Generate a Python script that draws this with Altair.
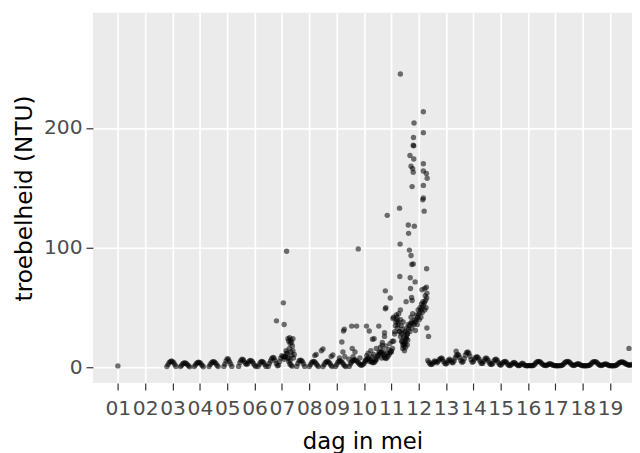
import altair as alt
import pandas as pd

N = None  # no reading (sensor dry / gap)

# ---- hourly turbidity values (NTU), May 2 18:00 onwards ----
base_start_hour = 42  # hours after May 1 00:00
may02 = [N, 0.8, 2.5, 4.0, 5.0, 5.5]
may03 = [5.0, 4.0, 2.5, 1.0, N, N, N, 0.8, 2.0, 3.2, 3.8, 3.8, 3.5, 2.5, 1.5, 0.6, N, N, N, 0.8, 2.2, 3.5, 4.2, 4.4]
may04 = [4.0, 3.0, 1.8, 0.7, N, N, N, N, 0.8, 2.5, 3.8, 4.6, 4.8, 4.5, 3.5, 2.0, 0.8, N, N, N, N, 1.0, 3.0, 5.5]
may05 = [7.5, 7.0, 5.0, 3.0, 1.0, N, N, N, N, N, 1.0, 4.0, 6.0, 7.0, 6.5, 5.0, 3.5, 2.5, 3.5, 5.0, 6.0, 5.8, 5.0, 3.5]
may06 = [2.0, 0.8, N, 0.8, 2.5, 4.2, 5.2, 5.0, 4.0, 2.5, 1.0, N, 1.0, 3.5, 5.5, 7.5, 8.5, 8.0, 6.0, 3.5, 1.5, 2.0, 5.0, 8.0]
may07 = [10.0, 9.0, 7.0, 9.0, 12.0, 8.0, 5.0, 3.0, 2.0, 1.2, N, N, N, 1.0, 3.5, 5.5, 6.2, 6.0, 5.0, 3.0, 1.0, N, N, N]
may08 = [0.8, 2.5, 4.0, 5.0, 5.2, 4.5, 3.2, 2.0, 0.8, N, N, N, 0.8, 2.5, 4.0, 5.0, 5.3, 4.6, 3.4, 2.0, 0.8, N, N, 0.8]
may09 = [2.5, 4.2, 5.3, 5.8, 5.2, 4.0, 2.8, 1.5, 0.8, N, N, 1.0, 3.0, 4.5, 5.5, 6.2, 6.5, 6.0, 5.0, 4.0, 3.0, 2.2, 2.0, 2.5]
may10 = [3.5, 5.0, 6.5, 7.5, 8.0, 7.0, 5.5, 4.5, 4.0, 4.5, 5.5, 7.0, 9.0, 11.0, 12.5, 13.0, 12.0, 10.0, 8.5, 7.5, 8.0, 9.5, 11.0, 12.5]
may11 = [14.0, 16.0, 22, 30, 38, 42, 36, 30, 26, 22, 19, 18, 20, 24, 28, 32, 35, 37, 38, 37, 36, 38, 40, 42]
may12 = [44, 46, 48, 50, 52, 54, 56, 58, 6.0, 4.5, 3.0, 2.5, 3.0, 4.5, 5.5, 5.0, 4.0, 5.0, 6.5, 7.5, 8.0, 7.0, 5.0, 3.5]
may13 = [3.0, 4.0, 6.0, 7.0, 6.0, 4.5, 4.0, 5.5, 8.0, 10.0, 11.0, 10.5, 8.5, 6.0, 4.5, 5.0, 7.5, 10.5, 12.5, 13.0, 12.0, 9.5, 6.5, 4.5]
may14 = [5.0, 7.0, 8.5, 9.0, 8.5, 7.0, 5.0, 3.5, 3.5, 5.0, 7.0, 8.0, 7.5, 6.0, 4.0, 2.8, 2.5, 3.5, 5.5, 6.8, 7.0, 6.0, 4.0, 2.5]
may15 = [2.0, 3.0, 4.2, 5.0, 5.2, 4.5, 3.0, 2.0, 1.6, 2.2, 3.2, 4.0, 4.2, 3.5, 2.5, 1.8, 1.6, 2.0, 3.0, 3.6, 3.0, 2.0, 1.6, 1.5]
may16 = [1.6, 1.8, 1.8, 1.6, 1.6, 2.0, 3.0, 4.0, 4.8, 5.2, 5.0, 4.5, 3.5, 2.5, 2.0, 1.8, 1.8, 2.2, 2.8, 3.2, 3.0, 2.4, 2.0, 1.7]
may17 = [1.6, 1.5, 1.5, 1.6, 1.6, 1.7, 2.0, 2.8, 3.8, 4.6, 5.0, 5.1, 4.6, 3.8, 2.8, 2.0, 1.8, 2.0, 2.5, 3.0, 3.2, 2.8, 2.2, 1.8]
may18 = [1.6, 1.5, 1.5, 1.5, 1.6, 1.7, 2.0, 2.8, 3.8, 4.6, 5.0, 5.0, 4.5, 3.6, 2.6, 2.0, 1.8, 2.0, 2.4, 2.9, 3.1, 2.8, 2.2, 1.8]
may19 = [1.6, 1.5, 1.5, 1.5, 1.6, 1.8, 2.4, 3.2, 4.0, 4.5, 4.7, 4.6, 4.2, 3.6, 3.0, 2.6, 2.2, 2.0, 2.2, 2.6]

# ---- scattered extra readings (day of May, NTU) ----
extra_day = [1.00,
             6.80, 7.05, 7.08, 7.17, 7.10, 7.15, 7.20, 7.22, 7.25, 7.25, 7.27, 7.28, 7.30, 7.30, 7.32, 7.33,
             7.35, 7.36, 7.38, 7.40, 7.40, 7.42, 7.45,
             8.20, 8.25, 8.44, 8.50, 8.80, 8.86, 9.10, 9.19, 9.23, 9.25, 9.28, 9.30, 9.45, 9.55, 9.57, 9.60,
             9.67, 9.73, 9.79, 9.85,
             10.05, 10.09, 10.10, 10.15, 10.19, 10.20, 10.25, 10.30, 10.31, 10.35, 10.37, 10.40, 10.45, 10.50,
             10.54, 10.55, 10.60, 10.65, 10.67, 10.67, 10.70, 10.75, 10.75, 10.75, 10.78, 10.78, 10.80, 10.80,
             10.85, 10.85, 10.90, 10.95, 10.96, 11.00, 11.03, 11.06, 11.08,
             11.12, 11.15, 11.18, 11.20, 11.22, 11.25, 11.27, 11.30, 11.30, 11.31, 11.32, 11.33, 11.33, 11.34,
             11.36, 11.38, 11.40, 11.43, 11.46, 11.50, 11.53, 11.56, 11.59, 11.62,
             11.40, 11.42, 11.45, 11.47, 11.48, 11.50, 11.52, 11.54, 11.55, 11.58, 11.60, 11.62, 11.63, 11.66,
             11.68, 11.68, 11.69, 11.70, 11.72, 11.72, 11.72, 11.74, 11.75, 11.75, 11.76, 11.76, 11.78, 11.78,
             11.80, 11.80, 11.80, 11.81, 11.82, 11.82, 11.83, 11.84, 11.85, 11.87, 11.88, 11.92, 11.95, 11.98,
             12.02, 12.05, 12.08, 12.10, 12.12, 12.13, 12.15, 12.16, 12.17, 12.17, 12.17, 12.17, 12.17, 12.17,
             12.20, 12.22, 12.22, 12.24, 12.27, 12.28, 12.28, 12.29, 12.30, 12.30, 12.31, 12.36,
             13.37, 19.69]
extra_val = [1.4,
             39, 54, 36, 97, 9, 14, 12, 24, 22, 8, 16, 25, 20, 6, 23, 13,
             21, 10, 18, 24, 14, 8, 11,
             10, 11, 14, 15.5, 9.3, 10.5, 8, 21.4, 13, 30.5, 32, 9, 7, 34.6, 16, 9,
             13, 34.6, 99, 8,
             6, 34.6, 10, 12, 30.5, 5, 14, 9, 23.6, 11, 24, 7, 16, 10,
             34.6, 13, 17, 8, 21, 18.7, 14, 29, 26, 11, 64, 49, 50, 18,
             127, 12, 15, 20, 58, 13, 22, 41, 42,
             28, 35, 44, 40, 33, 38, 45, 30, 133, 76, 103, 245, 48, 40,
             35, 28, 32, 38, 20, 30, 24, 33, 28, 36,
             22, 16, 25, 29, 14, 21, 17, 55, 26, 19, 23, 119, 112, 98,
             30, 177, 75, 66, 93.5, 168, 42, 58.5, 86, 33, 151, 56, 166, 45,
             86.5, 163, 185.5, 192, 174, 185, 204, 118, 40, 71.5, 31, 44, 36, 48,
             40, 50, 42, 53, 65, 46, 140, 55, 213.5, 196, 170, 164, 152, 141.5,
             130.5, 66, 48, 60, 50, 162, 67, 82.4, 62, 33, 158, 26,
             13.7, 16]

# ---- build the table ----
base_values = (may02 + may03 + may04 + may05 + may06 + may07 + may08 + may09 + may10
               + may11 + may12 + may13 + may14 + may15 + may16 + may17 + may18 + may19)
rows = []
for i, v in enumerate(base_values):
    if v is not None:
        rows.append({"dag": 1 + (base_start_hour + i) / 24.0, "ntu": v})
for d, v in zip(extra_day, extra_val):
    rows.append({"dag": d, "ntu": v})
df = pd.DataFrame(rows)

day_ticks = list(range(1, 20))

chart = alt.Chart(df).mark_circle(
    size=30, color="black", opacity=0.55, clip=True
).encode(
    x=alt.X("dag:Q",
            scale=alt.Scale(domain=[0.087, 19.8], nice=False, zero=False),
            axis=alt.Axis(values=day_ticks, title="dag in mei",
                          labelExpr="datum.value < 10 ? '0' + datum.value : '' + datum.value",
                          labelFontSize=20.5, labelColor="#4d4d4d", labelPadding=9,
                          labelFont="DejaVu Sans", labelFlush=False, labelOverlap=False,
                          tickSize=7, tickWidth=1.2, tickColor="#333333",
                          domain=False, grid=True, gridColor="white", gridWidth=1.7,
                          titleFont="DejaVu Sans", titleFontSize=23, titleFontWeight="normal",
                          titleColor="black", titleX=273, titleY=66,
                          titleBaseline="alphabetic", titleAlign="center")),
    y=alt.Y("ntu:Q",
            scale=alt.Scale(domain=[-12.9, 296], nice=False, zero=False),
            axis=alt.Axis(values=[0, 100, 200], title="troebelheid (NTU)",
                          labelFontSize=20.5, labelColor="#4d4d4d", labelPadding=4,
                          labelFont="DejaVu Sans",
                          tickSize=7, tickWidth=1.2, tickColor="#333333",
                          domain=False, grid=True, gridColor="white", gridWidth=1.7,
                          titleFont="DejaVu Sans", titleFontSize=23.5, titleFontWeight="normal",
                          titleColor="black", titleX=-62, titleY=187.5, titleAngle=270,
                          titleBaseline="alphabetic", titleAlign="center")),
).properties(
    width=546, height=375,
    autosize=alt.AutoSizeParams(type="none"),
    padding={"left": 86, "top": 2, "right": 0, "bottom": 68},
).configure_view(
    fill="#EBEBEB", strokeWidth=0
)

chart.save("out.html", embed_options={"renderer": "svg", "actions": False})
